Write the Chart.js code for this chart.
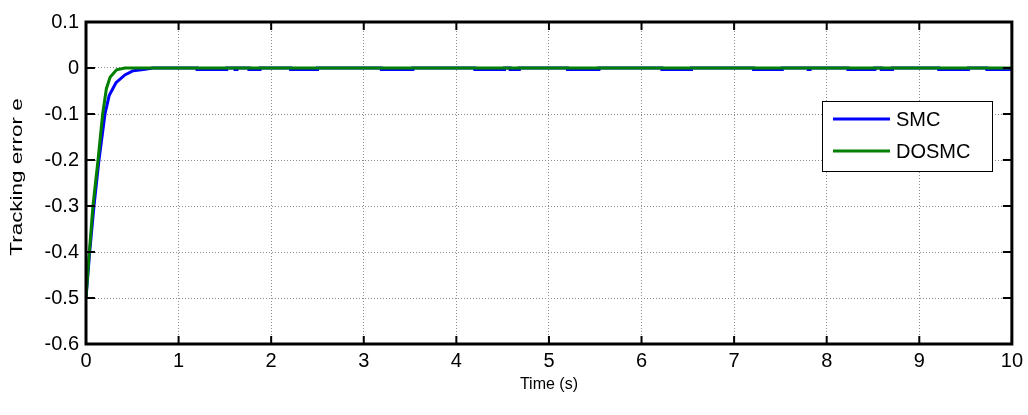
<!DOCTYPE html>
<html>
<head>
<meta charset="utf-8">
<script src="https://cdn.jsdelivr.net/npm/chart.js@4.4.1/dist/chart.umd.min.js"></script>
<style>
  body { margin: 0; background: #fff; }
  canvas { display: block; }
</style>
</head>
<body>
<canvas id="myChart" width="1028" height="415"></canvas>
<script>
// values
var seriesNames = ["SMC", "DOSMC"];
var seriesColors = ["#0000ff", "#007f00"];

var smcTime = [0, 0.04, 0.086, 0.14, 0.205, 0.25, 0.324, 0.42, 0.51, 0.64, 0.72,
  1.20, 1.20, 1.52, 1.52, 1.61, 1.61, 1.63, 1.63, 1.76, 1.76, 1.88, 1.88,
  2.21, 2.21, 2.50, 2.50, 3.19, 3.19, 3.53, 3.53, 4.20, 4.20, 4.52, 4.52,
  4.58, 4.58, 4.68, 4.68, 5.20, 5.20, 5.54, 5.54, 6.22, 6.22, 6.54, 6.54,
  7.21, 7.21, 7.52, 7.52, 7.80, 7.80, 7.82, 7.82, 8.23, 8.23, 8.52, 8.52,
  8.59, 8.59, 8.71, 8.71, 9.21, 9.21, 9.53, 9.53, 9.73, 9.73, 10];
var smcError = [-0.5, -0.4, -0.3, -0.2, -0.1, -0.06, -0.032, -0.015, -0.006, -0.003, 0,
  0, -0.0035, -0.0035, 0, 0, -0.0035, -0.0035, 0, 0, -0.0035, -0.0035, 0,
  0, -0.0035, -0.0035, 0, 0, -0.0035, -0.0035, 0, 0, -0.0035, -0.0035, 0,
  0, -0.0035, -0.0035, 0, 0, -0.0035, -0.0035, 0, 0, -0.0035, -0.0035, 0,
  0, -0.0035, -0.0035, 0, 0, -0.0035, -0.0035, 0, 0, -0.0035, -0.0035, 0,
  0, -0.0035, -0.0035, 0, 0, -0.0035, -0.0035, 0, 0, -0.0035, -0.0035];

var dosmcTime = [0, 0.036, 0.075, 0.13, 0.18, 0.22, 0.26, 0.33, 0.42, 10];
var dosmcError = [-0.5, -0.4, -0.3, -0.2, -0.1, -0.045, -0.02, -0.004, 0, 0];

var xTicks = [0, 1, 2, 3, 4, 5, 6, 7, 8, 9, 10];
var yTicks = [-0.6, -0.5, -0.4, -0.3, -0.2, -0.1, 0, 0.1];
var xLabel = "Time (s)";
var yLabel = "Tracking error e";

var FONT = "Arial, 'Liberation Sans', sans-serif";

function toPoints(ts, vs) {
  var pts = [];
  for (var i = 0; i < ts.length; i++) pts.push({ x: ts[i], y: vs[i] });
  return pts;
}

// matlab style frame, inward ticks, legend and axis titles
var matlabFrame = {
  id: "matlabFrame",
  afterDraw: function (chart) {
    var ctx = chart.ctx;
    var a = chart.chartArea;
    var xs = chart.scales.x, ys = chart.scales.y;
    ctx.save();
    ctx.strokeStyle = "#000";
    ctx.lineWidth = 2;
    ctx.beginPath();
    xTicks.forEach(function (t) {
      var px = xs.getPixelForValue(t);
      ctx.moveTo(px, a.bottom); ctx.lineTo(px, a.bottom - 8);
      ctx.moveTo(px, a.top); ctx.lineTo(px, a.top + 8);
    });
    yTicks.forEach(function (t) {
      var py = ys.getPixelForValue(t);
      ctx.moveTo(a.left, py); ctx.lineTo(a.left + 9, py);
      ctx.moveTo(a.right, py); ctx.lineTo(a.right - 9, py);
    });
    ctx.stroke();
    ctx.lineWidth = 3;
    ctx.strokeRect(a.left, a.top, a.right - a.left, a.bottom - a.top);

    // legend
    var lx = 822, ly = 101, lw = 170, lh = 70;
    ctx.fillStyle = "#fff";
    ctx.fillRect(lx, ly, lw, lh);
    ctx.lineWidth = 1;
    ctx.strokeRect(lx + 0.5, ly + 0.5, lw, lh);
    ctx.font = "20px " + FONT;
    ctx.textBaseline = "middle";
    ctx.textAlign = "left";
    seriesNames.forEach(function (name, i) {
      var yy = ly + 18 + i * 32;
      ctx.strokeStyle = seriesColors[i];
      ctx.lineWidth = 3;
      ctx.beginPath();
      ctx.moveTo(lx + 11, yy); ctx.lineTo(lx + 68, yy);
      ctx.stroke();
      ctx.fillStyle = "#000";
      ctx.fillText(name, lx + 74, yy + 1);
    });

    // axis titles
    ctx.fillStyle = "#000";
    ctx.font = "16px " + FONT;
    ctx.textAlign = "center";
    ctx.fillText(xLabel, (a.left + a.right) / 2, 385);
    ctx.translate(18, (a.top + a.bottom) / 2 - 6);
    ctx.rotate(-Math.PI / 2);
    ctx.scale(1.4, 1);
    ctx.font = "16px " + FONT;
    ctx.fillText(yLabel, 0, 0);
    ctx.restore();
  }
};

function createChart() {
  var ctx = document.getElementById("myChart").getContext("2d");
  new Chart(ctx, {
    type: "line",
    data: {
      datasets: [
        {
          label: seriesNames[0],
          data: toPoints(smcTime, smcError),
          borderColor: seriesColors[0],
          borderWidth: 3,
          pointRadius: 0,
          tension: 0,
          order: 2
        },
        {
          label: seriesNames[1],
          data: toPoints(dosmcTime, dosmcError),
          borderColor: seriesColors[1],
          borderWidth: 3,
          pointRadius: 0,
          tension: 0,
          order: 1
        }
      ]
    },
    options: {
      responsive: false,
      animation: false,
      layout: { padding: { top: 22, right: 15, left: 0, bottom: 0 } },
      plugins: { legend: { display: false }, tooltip: { enabled: false } },
      scales: {
        x: {
          type: "linear",
          min: 0,
          max: 10,
          afterBuildTicks: function (s) { s.ticks = xTicks.map(function (v) { return { value: v }; }); },
          afterFit: function (s) { s.height = 71; },
          ticks: { color: "#000", font: { family: FONT, size: 20 }, padding: 5, maxRotation: 0 },
          grid: { color: "#8c8c8c", lineWidth: 1, drawTicks: false },
          border: { display: false, dash: [1, 2] }
        },
        y: {
          min: -0.6,
          max: 0.1,
          afterBuildTicks: function (s) { s.ticks = yTicks.map(function (v) { return { value: v }; }); },
          afterFit: function (s) { s.width = 86; },
          ticks: {
            color: "#000",
            font: { family: FONT, size: 20 },
            padding: 7,
            callback: function (v) { return String(Math.round(v * 10) / 10); }
          },
          grid: { color: "#8c8c8c", lineWidth: 1, drawTicks: false },
          border: { display: false, dash: [1, 2] }
        }
      }
    },
    plugins: [matlabFrame]
  });
}

createChart();
</script>
</body>
</html>
